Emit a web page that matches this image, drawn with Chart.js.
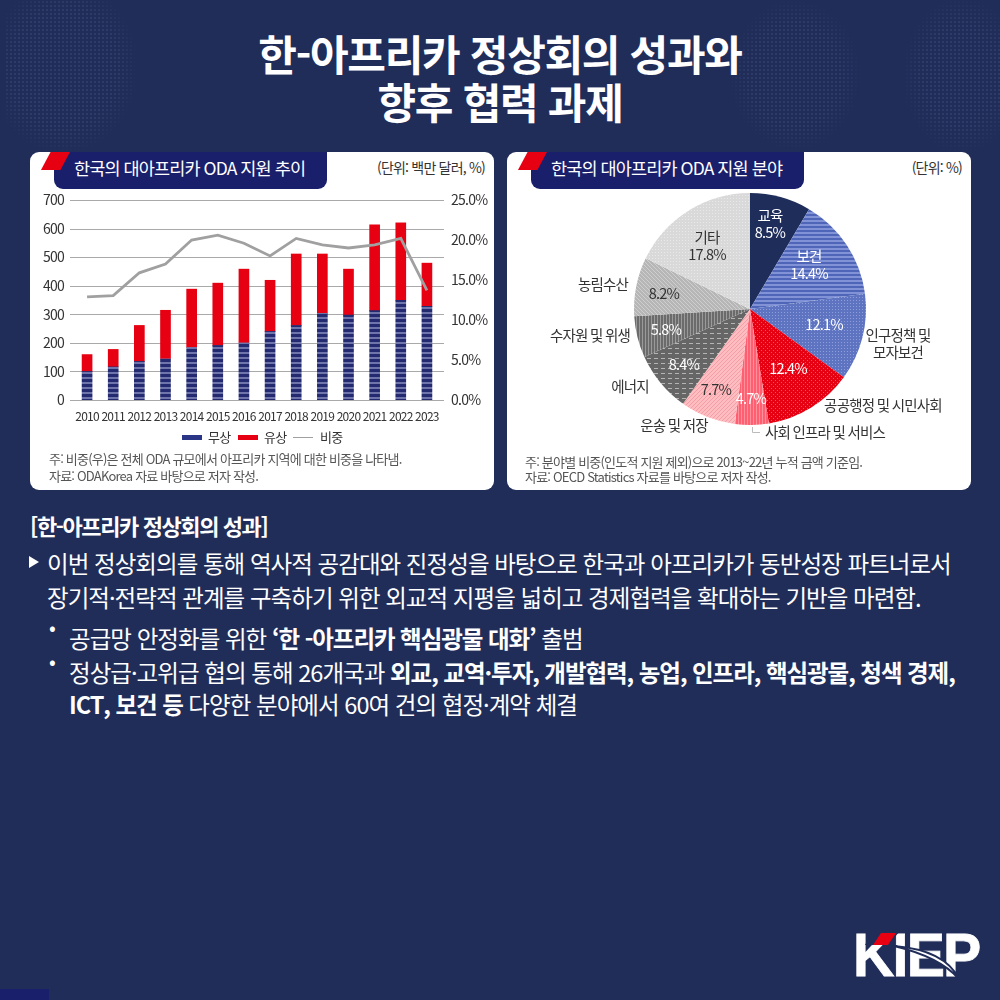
<!DOCTYPE html>
<html lang="ko"><head><meta charset="utf-8">
<script src="https://cdn.jsdelivr.net/npm/chart.js@4"></script>
<style>
html,body{margin:0;padding:0;background:#212d59}
#page{position:relative;width:1000px;height:1000px;overflow:hidden;background:#212d59;font-family:"Noto Sans CJK KR","Noto Sans",sans-serif;color:#fff}
.t{position:absolute;white-space:nowrap}
.dots{position:absolute;background-image:radial-gradient(rgba(140,160,220,.12) 1.2px,transparent 1.5px);background-size:4px 4px}
.panel{position:absolute;top:152px;width:464px;height:338px;background:#fff;border-radius:9px;color:#333}
.banner{position:absolute;top:0;left:24px;width:273px;height:37px;background:#1a1f6b;border-radius:0 0 9px 9px;color:#fff;font-size:17.5px;line-height:32px;letter-spacing:-.9px;text-indent:20px}
.flag{position:absolute;top:0;left:11px;width:29px;height:18px;background:#e60012;clip-path:polygon(33% 0,100% 0,67% 100%,0 100%)}
.unit{position:absolute;top:5px;right:9px;font-size:14px;letter-spacing:-.8px;color:#333}
.note{position:absolute;font-size:13px;letter-spacing:-.8px;color:#555;white-space:nowrap}
canvas{position:absolute;left:0;top:0}
.body{font-size:23.5px;letter-spacing:-.95px;line-height:34px}
.body b{font-weight:700;letter-spacing:-1.05px}
</style></head><body><div id="page">
<div class="dots" style="left:5px;top:0;width:130px;height:150px;-webkit-mask-image:radial-gradient(ellipse at 45% 45%,#000 55%,transparent 75%)"></div>
<div class="dots" style="left:730px;top:0;width:130px;height:150px;-webkit-mask-image:radial-gradient(ellipse at 50% 50%,#000 50%,transparent 72%)"></div>
<div class="dots" style="left:905px;top:0;width:95px;height:150px;-webkit-mask-image:radial-gradient(ellipse at 60% 50%,#000 50%,transparent 75%)"></div>
<div class="t" style="left:0;width:1000px;text-align:center;top:29px;font-size:42px;font-weight:700;letter-spacing:-1.3px;line-height:48px">한-아프리카 정상회의 성과와<br>향후 협력 과제</div>

<div class="panel" style="left:30px">
 <div class="banner">한국의 대아프리카 ODA 지원 추이</div><div class="flag"></div>
 <div class="unit">(단위: 백만 달러, %)</div>
 <canvas id="bar" width="464" height="338"></canvas>
 <div class="note" style="left:19px;top:298px;line-height:17px">주: 비중(우)은 전체 ODA 규모에서 아프리카 지역에 대한 비중을 나타냄.<br>자료: ODAKorea 자료 바탕으로 저자 작성.</div>
</div>
<div class="panel" style="left:507px">
 <div class="banner">한국의 대아프리카 ODA 지원 분야</div><div class="flag"></div>
 <div class="unit">(단위: %)</div>
 <canvas id="pie" width="464" height="338"></canvas>
 <div class="note" style="left:18px;top:302px;line-height:15px">주: 분야별 비중(인도적 지원 제외)으로 2013~22년 누적 금액 기준임.<br>자료: OECD Statistics 자료를 바탕으로 저자 작성.</div>
</div>

<div class="t" style="left:30px;top:509px;font-size:22px;font-weight:700;letter-spacing:-1.4px">[한-아프리카 정상회의 성과]</div>
<div class="t" style="left:29px;top:556px;width:0;height:0;border-left:10px solid #fff;border-top:6px solid transparent;border-bottom:6px solid transparent"></div>
<div class="t body" style="left:47px;top:546px">이번 정상회의를 통해 역사적 공감대와 진정성을 바탕으로 한국과 아프리카가 동반성장 파트너로서</div>
<div class="t body" style="left:47px;top:580px">장기적·전략적 관계를 구축하기 위한 외교적 지평을 넓히고 경제협력을 확대하는 기반을 마련함.</div>
<div class="t" style="left:49px;top:612px;font-size:20px">•</div>
<div class="t body" style="left:69px;top:621px">공급망 안정화를 위한 <b>‘한 -아프리카 핵심광물 대화’</b> 출범</div>
<div class="t" style="left:49px;top:646px;font-size:20px">•</div>
<div class="t body" style="left:69px;top:655px">정상급·고위급 협의 통해 26개국과 <b>외교, 교역·투자, 개발협력, 농업, 인프라, 핵심광물, 청색 경제,</b></div>
<div class="t body" style="left:69px;top:687px"><b>ICT, 보건 등</b> 다양한 분야에서 60여 건의 협정·계약 체결</div>

<div class="t" style="left:0;top:989px;width:49px;height:11px;background:#1a1f6b"></div>
<div class="t" style="left:853px;top:916px;font-family:'Liberation Sans';font-weight:700;font-size:62px;letter-spacing:-2px;line-height:78px;-webkit-text-stroke:.8px #fff;transform:scaleX(.925);transform-origin:0 0">KIEP</div>
<svg class="t" style="left:850px;top:925px" width="140" height="60"><polygon points="23,6 50,6 38,20 15,20" fill="#212d59"/><polygon points="31,8 46,8 38,20 23,20" fill="#e60012"/><path d="M44,21 Q95,25 109,54 Q90,32 44,21Z" fill="#fff" stroke="#212d59" stroke-width="2"/></svg>
</div>
<script>
const years = ['2010','2011','2012','2013','2014','2015','2016','2017','2018','2019','2020','2021','2022','2023'];
const grant = [100,116,135,144,184,191,200,240,261,303,297,313,349,328];
const loan = [59,61,126,170,204,218,258,179,250,208,161,300,271,151];
const share = [12.9,13.05,15.9,17.0,20.0,20.6,19.6,18.0,20.2,19.4,19.0,19.4,20.2,13.7];
const leftTicks = [0,100,200,300,400,500,600,700];
const rightTicks = [0,5,10,15,20,25];
const sectors = ['교육','보건','인구정책 및\n모자보건','공공행정 및 시민사회','사회 인프라 및 서비스','운송 및 저장','에너지','수자원 및 위생','농림수산','기타'];
const sectorShare = [8.5,14.4,12.1,12.4,4.7,7.7,8.4,5.8,8.2,17.8];

const FONT = '"Noto Sans CJK KR","Noto Sans",sans-serif';
function pat(w,h,bg,fn){const c=document.createElement('canvas');c.width=w;c.height=h;const x=c.getContext('2d');x.fillStyle=bg;x.fillRect(0,0,w,h);fn&&fn(x);return x.createPattern(c,'repeat');}
function px(x,col,list){x.fillStyle=col;list.forEach(p=>x.fillRect(p[0],p[1],p[2]||1,p[3]||1));}
const grantFill = pat(1,5,'#232a70',x=>px(x,'#6f74ab',[[0,0,1,2]]));
const fills = [
 '#1f2d5b',
 pat(1,4,'#4f66b8',x=>px(x,'#8192d6',[[0,0,1,2]])),
 pat(3,3,'#5e74c0',x=>px(x,'#8e9edd',[[1,1]])),
 pat(4,4,'#e60012',x=>px(x,'#ef5c68',[[0,0],[2,2]])),
 pat(3,1,'#ff5f70',x=>px(x,'#ff8f9a',[[0,0]])),
 pat(4,4,'#ffbcc1',x=>px(x,'#f29ea4',[[3,0],[2,1],[1,2],[0,3]])),
 pat(7,5,'#666666',x=>px(x,'#b5b5b5',[[0,1,4,1]])),
 pat(3,1,'#6b6b6b',x=>px(x,'#9a9a9a',[[0,0]])),
 pat(4,4,'#b6b6b6',x=>px(x,'#cfcfcf',[[0,0],[1,1],[2,2],[3,3]])),
 pat(3,3,'#d9d9d9',x=>px(x,'#e9e9e9',[[1,1]]))
];
function swatch(w,h,fill){const c=document.createElement('canvas');c.width=w;c.height=h;const x=c.getContext('2d');x.fillStyle=fill;x.fillRect(0,0,w,h);return c;}

const tightText = {id:'tight',beforeUpdate(c){c.ctx.letterSpacing='-0.75px';},beforeDraw(c){c.ctx.letterSpacing='-0.75px';}};
const extGrid = {id:'extGrid',beforeDatasetsDraw(c){
  const s=c.scales.y,a=c.chartArea,x=c.ctx;x.save();x.strokeStyle='#a9a9a9';x.lineWidth=1;
  leftTicks.forEach(v=>{const y=Math.round(s.getPixelForValue(v))+.5;x.beginPath();x.moveTo(a.left-4,y);x.lineTo(a.right+4,y);x.stroke();});x.restore();}};

new Chart(document.getElementById('bar'),{
 type:'bar',
 plugins:[tightText,extGrid],
 data:{labels:years,datasets:[
  {type:'line',label:'비중',data:share,yAxisID:'y1',borderColor:'#a0a0a0',borderWidth:2.8,pointRadius:0,tension:0,order:0,pointStyle:swatch(20,1,'#a0a0a0')},
  {label:'무상',data:grant,backgroundColor:grantFill,barThickness:10,stack:'a',order:1,yAxisID:'y',pointStyle:swatch(20,5,'#2b3585')},
  {label:'유상',data:loan,backgroundColor:'#e60012',barThickness:10,stack:'a',order:1,yAxisID:'y',pointStyle:swatch(20,5,'#e60012')}
 ]},
 options:{responsive:false,animation:false,
  layout:{padding:{top:48,bottom:36,left:0,right:0}},
  plugins:{tooltip:{enabled:false},
   legend:{position:'bottom',labels:{usePointStyle:true,pointStyleWidth:20,boxHeight:8,color:'#333',font:{family:FONT,size:13},padding:7,
    sort:(a,b)=>['무상','유상','비중'].indexOf(a.text)-['무상','유상','비중'].indexOf(b.text),
    generateLabels(c){return c.data.datasets.map((d,i)=>({text:d.label,pointStyle:d.pointStyle,datasetIndex:i,fontColor:'#333',lineWidth:0}));}}}},
  scales:{
   x:{stacked:true,offset:true,grid:{display:false},border:{display:false},
      ticks:{autoSkip:false,maxRotation:0,minRotation:0,color:'#333',font:{family:FONT,size:12},padding:1},
      afterFit(s){s.height=24;}},
   y:{stacked:true,min:0,max:700,position:'left',grid:{display:false},border:{display:false},
      afterBuildTicks(s){s.ticks=leftTicks.map(v=>({value:v}));},
      ticks:{color:'#333',font:{family:FONT,size:14},padding:2},afterFit(s){s.width=44;}},
   y1:{min:0,max:25,position:'right',grid:{display:false},border:{display:false},
      afterBuildTicks(s){s.ticks=rightTicks.map(v=>({value:v}));},
      ticks:{color:'#333',font:{family:FONT,size:14},padding:3,callback:v=>v.toFixed(1)+'%'},afterFit(s){s.width=54;}}
  }}
});

const pctColor = ['#fff','#fff','#fff','#fff','#fff','#333','#fff','#fff','#333','#333'];
const pctOffset = [[20,-77],[59,-36],[74,15],[38,59],[1,89],[-34,80],[-66,55],[-84,20],[-86,-16],[-43,-55]];
const nameOffset = [[20,-94],[59,-53],[148,26],[133,96],[75,123],[-76,116],[-120,77],[-160,26],[-147,-25],[-43,-72]];
const nameInside = [true,true,false,false,false,false,false,false,false,true];
const sliceLabels = {id:'sliceLabels',afterDatasetsDraw(c){
  const x=c.ctx,a=c.getDatasetMeta(0).data[0];x.save();x.textAlign='center';x.textBaseline='middle';x.letterSpacing='-0.8px';
  sectorShare.forEach((v,i)=>{
    x.font='14.5px '+FONT;x.fillStyle=pctColor[i];
    x.fillText(v.toFixed(1)+'%',a.x+pctOffset[i][0],a.y+pctOffset[i][1]);
    x.fillStyle=nameInside[i]?pctColor[i]:'#333';
    sectors[i].split('\n').forEach((ln,k)=>x.fillText(ln,a.x+nameOffset[i][0],a.y+nameOffset[i][1]+k*17));
  });
  x.strokeStyle='#bbb';x.lineWidth=1;x.beginPath();x.moveTo(a.x+2.5,a.y+118);x.lineTo(a.x+2.5,a.y+123.5);x.lineTo(a.x+10,a.y+123.5);x.stroke();
  x.restore();}};
new Chart(document.getElementById('pie'),{
 type:'pie',plugins:[sliceLabels],
 data:{labels:sectors,datasets:[{data:sectorShare,backgroundColor:fills,borderWidth:0}]},
 options:{responsive:false,animation:false,layout:{padding:{top:41,left:127,right:105,bottom:65}},
  plugins:{legend:{display:false},tooltip:{enabled:false}}}
});
</script></body></html>
